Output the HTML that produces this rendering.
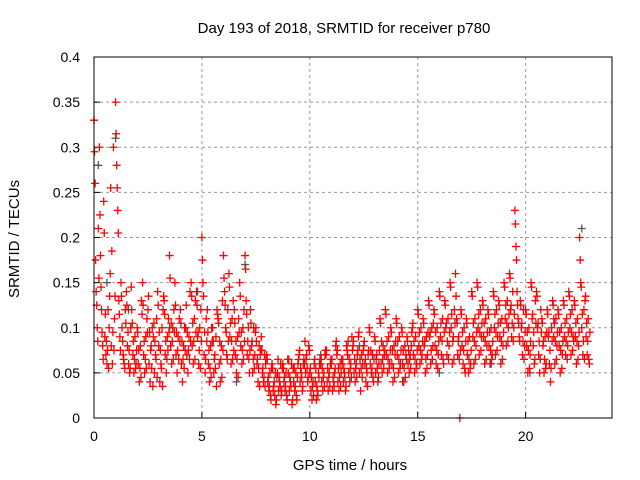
<!DOCTYPE html>
<html><head><meta charset="utf-8"><style>
body{margin:0;background:#fff}
svg{display:block;font-family:"Liberation Sans",sans-serif}
</style></head><body>
<svg id="chart" width="640" height="480" xmlns="http://www.w3.org/2000/svg">
<text x="344" y="33" font-size="15" text-anchor="middle">Day 193 of 2018, SRMTID for receiver p780</text>
<text x="350" y="470" font-size="15" text-anchor="middle">GPS time / hours</text>
<text transform="translate(19,239) rotate(-90)" font-size="15" text-anchor="middle">SRMTID / TECUs</text>
<g id="grid"></g><g id="ticks"></g><g id="gray"></g><g id="red"></g>
<rect x="94" y="57" width="518" height="361" fill="none" stroke="#000" stroke-width="1"/>
</svg>
<script>
const xTicks=[0,5,10,15,20];
const yTicks=[0,0.05,0.1,0.15,0.2,0.25,0.3,0.35,0.4];
const yTickLabels=["0","0.05","0.1","0.15","0.2","0.25","0.3","0.35","0.4"];
const groupHours=[0,0.25,0.5,0.75,1,1.25,1.5,1.75,2,2.25,2.5,2.75,3,3.25,3.5,3.75,4,4.25,4.5,4.75,5,5.25,5.5,5.75,6,6.25,6.5,6.75,7,7.25,7.5,7.75,8,8.25,8.5,8.75,9,9.25,9.5,9.75,10,10.25,10.5,10.75,11,11.25,11.5,11.75,12,12.25,12.5,12.75,13,13.25,13.5,13.75,14,14.25,14.5,14.75,15,15.25,15.5,15.75,16,16.25,16.5,16.75,17,17.25,17.5,17.75,18,18.25,18.5,18.75,19,19.25,19.5,19.75,20,20.25,20.5,20.75,21,21.25,21.5,21.75,22,22.25,22.5,22.75];
const redValues=[
[.33,.26,.14,.10,.21],[.30,.18,.12,.08,.24],[.09,.07,.06,.12,.10],[.16,.08,.06,.30,.11],[.35,.28,.23,.13,.09],[.15,.10,.07,.06,.12],[.14,.08,.06,.05,.10],[.12,.07,.05,.09,.06],
[.10,.06,.04,.08,.13],[.15,.07,.05,.09,.11],[.12,.06,.04,.08,.10],[.09,.05,.07,.11,.14],[.08,.04,.06,.10,.12],[.13,.07,.05,.09,.11],[.18,.08,.06,.10,.12],[.15,.07,.05,.09,.11],
[.12,.06,.04,.08,.10],[.10,.07,.05,.09,.14],[.15,.08,.06,.11,.13],[.14,.09,.06,.10,.12],[.20,.15,.07,.05,.11],[.12,.06,.04,.08,.10],[.10,.05,.07,.09,.12],[.11,.06,.04,.08,.13],
[.18,.14,.10,.07,.12],[.16,.09,.06,.11,.13],[.12,.07,.05,.09,.11],[.15,.08,.06,.10,.12],[.18,.13,.07,.10,.05],[.12,.08,.05,.10,.07],[.10,.06,.04,.08,.07],[.09,.05,.04,.07,.06],
[.07,.04,.03,.05,.02],[.06,.03,.04,.05,.02],[.05,.03,.04,.06,.03],[.06,.04,.03,.05,.02],[.05,.03,.04,.06,.02],[.04,.03,.05,.02,.06],[.07,.04,.05,.03,.06],[.06,.05,.07,.04,.08],
[.05,.03,.02,.04,.06],[.04,.02,.03,.05,.06],[.06,.04,.03,.05,.07],[.07,.04,.03,.05,.06],[.06,.03,.04,.05,.08],[.07,.04,.03,.06,.05],[.06,.04,.05,.03,.08],[.07,.05,.04,.06,.09],
[.08,.05,.04,.06,.07],[.09,.05,.03,.07,.06],[.08,.06,.04,.05,.07],[.10,.06,.05,.07,.04],[.09,.05,.07,.04,.06],[.11,.06,.05,.08,.07],[.12,.07,.05,.09,.06],[.10,.06,.04,.08,.07],
[.11,.07,.05,.09,.06],[.10,.06,.04,.08,.07],[.09,.06,.05,.07,.08],[.10,.07,.05,.09,.06],[.12,.08,.06,.10,.07],[.11,.08,.05,.09,.07],[.13,.09,.06,.10,.08],[.12,.08,.06,.10,.07],
[.14,.09,.07,.11,.06],[.13,.10,.07,.11,.08],[.15,.10,.06,.09,.12],[.16,.11,.07,.09,.00],[.12,.08,.06,.10,.05],[.11,.07,.05,.09,.06],[.14,.09,.06,.11,.08],[.15,.10,.07,.12,.09],
[.13,.09,.06,.11,.08],[.12,.08,.06,.10,.07],[.14,.10,.07,.12,.09],[.13,.09,.06,.11,.08],[.15,.11,.08,.13,.10],[.16,.12,.09,.14,.10],[.23,.19,.14,.11,.09],[.13,.10,.07,.12,.08],
[.12,.08,.05,.10,.07],[.15,.11,.08,.06,.13],[.14,.10,.07,.05,.12],[.11,.08,.05,.09,.06],[.12,.09,.06,.04,.10],[.13,.09,.06,.11,.08],[.12,.08,.05,.10,.07],[.13,.09,.07,.11,.08],
[.14,.10,.07,.12,.09],[.13,.09,.06,.11,.08],[.20,.15,.10,.07,.12],[.13,.09,.07,.11,.06]];
const redValues2=[
[.295,.175,.125,.085,.155],[.225,.145,.095,.065,.205],[.115,.085,.075,.055,.135],[.255,.185,.095,.075,.135],[.315,.255,.205,.115,.075],[.135,.085,.065,.055,.105],[.125,.095,.075,.055,.145],[.105,.085,.065,.055,.075],
[.095,.075,.055,.045,.115],[.125,.085,.065,.055,.095],[.135,.095,.075,.055,.035],[.105,.085,.065,.045,.125],[.095,.075,.055,.035,.135],[.115,.085,.065,.075,.095],[.155,.105,.085,.065,.095],[.125,.095,.075,.065,.085],
[.105,.085,.065,.055,.075],[.125,.095,.075,.065,.085],[.135,.105,.085,.065,.095],[.125,.095,.075,.055,.085],[.175,.135,.095,.065,.085],[.095,.075,.055,.045,.085],[.085,.065,.055,.035,.115],[.105,.085,.065,.045,.075],
[.155,.125,.095,.065,.085],[.145,.105,.085,.065,.075],[.105,.085,.065,.045,.095],[.135,.095,.075,.065,.085],[.165,.115,.085,.065,.075],[.105,.085,.065,.055,.095],[.085,.065,.055,.035,.075],[.075,.055,.045,.035,.065],
[.065,.045,.035,.025,.055],[.055,.035,.025,.015,.045],[.065,.045,.035,.025,.055],[.055,.045,.035,.025,.065],[.065,.045,.035,.015,.055],[.055,.035,.025,.045,.065],[.075,.055,.045,.035,.065],[.085,.065,.055,.045,.075],
[.055,.045,.035,.025,.065],[.055,.035,.025,.045,.065],[.065,.055,.045,.035,.075],[.075,.055,.045,.035,.065],[.065,.045,.035,.055,.085],[.075,.055,.045,.035,.065],[.065,.055,.045,.035,.075],[.085,.065,.055,.045,.075],
[.085,.065,.055,.045,.075],[.095,.065,.055,.045,.075],[.085,.065,.055,.035,.075],[.095,.075,.055,.045,.065],[.085,.065,.055,.045,.075],[.105,.085,.065,.055,.075],[.115,.085,.065,.055,.075],[.095,.075,.055,.045,.085],
[.105,.085,.065,.055,.075],[.095,.075,.055,.045,.065],[.085,.075,.065,.055,.095],[.105,.085,.065,.055,.075],[.115,.095,.075,.065,.085],[.105,.085,.065,.055,.095],[.125,.095,.075,.065,.105],[.115,.095,.075,.055,.085],
[.135,.105,.085,.065,.095],[.125,.105,.085,.065,.095],[.145,.115,.085,.065,.105],[.135,.105,.085,.065,.075],[.115,.095,.075,.055,.085],[.105,.085,.065,.055,.075],[.135,.105,.085,.065,.095],[.145,.115,.095,.075,.105],
[.125,.105,.085,.065,.095],[.115,.095,.075,.065,.085],[.135,.115,.095,.075,.105],[.125,.105,.085,.065,.095],[.145,.125,.105,.085,.115],[.155,.125,.105,.085,.115],[.215,.175,.125,.105,.085],[.125,.105,.085,.065,.095],
[.115,.095,.075,.055,.085],[.145,.115,.095,.065,.105],[.135,.105,.085,.065,.095],[.105,.085,.065,.055,.095],[.115,.095,.075,.055,.085],[.125,.105,.085,.065,.095],[.115,.095,.075,.055,.085],[.125,.105,.085,.065,.095],
[.135,.115,.095,.075,.085],[.125,.105,.085,.065,.095],[.175,.145,.115,.085,.065],[.135,.105,.085,.065,.095]];
const grayHours=[0.2,0.6,1.0,1.6,3.5,4.8,6.6,7.0,10.5,12.3,14.3,16.0,18.4,20.2,21.3,22.6];
const grayValues=[0.28,0.15,0.31,0.12,0.10,0.14,0.04,0.17,0.07,0.08,0.04,0.05,0.06,0.05,0.11,0.21];
const NS="http://www.w3.org/2000/svg";
const X=h=>94+h*(518/24), Y=v=>418-v*(361/0.4);
function mk(tag,attrs,parent){const e=document.createElementNS(NS,tag);for(const k in attrs)e.setAttribute(k,attrs[k]);document.getElementById(parent).appendChild(e);return e;}
xTicks.forEach(t=>{
  if(t>0){const g=mk('line',{x1:X(t),x2:X(t),y1:57,y2:418,stroke:'#999','stroke-dasharray':'3,3'},'grid');
  
  }
  const l=mk('text',{x:X(t),y:441,'font-size':14,'text-anchor':'middle'},'ticks');l.textContent=t;
  
  
  mk('line',{x1:X(t),x2:X(t),y1:418,y2:412,stroke:'#000'},'ticks');
});
yTicks.forEach((t,i)=>{
  if(t>0&&t<0.4){const g=mk('line',{x1:94,x2:612,y1:Y(t),y2:Y(t),stroke:'#999','stroke-dasharray':'3,3'},'grid');
  
  }
  const l=mk('text',{x:80,y:Y(t)+5,'font-size':14,'text-anchor':'end'},'ticks');l.textContent=yTickLabels[i];
  
  
  mk('line',{x1:94,x2:100,y1:Y(t),y2:Y(t),stroke:'#000'},'ticks');
});
function plus(h,v,col,parent,name){const x=X(h),y=Y(v);
  const p=mk('path',{d:`M${x-4} ${y}H${x+4}M${x} ${y-4}V${y+4}`,stroke:col,'stroke-width':1.3,fill:'none'},parent);
  
  }
grayHours.forEach((h,i)=>plus(h,grayValues[i],'#555','gray','gray-point'));
groupHours.forEach((h,i)=>redValues[i].forEach((v,k)=>plus(h+k*0.05,v,'#f00','red','red-point')));
groupHours.forEach((h,i)=>redValues2[i].forEach((v,k)=>plus(h+0.025+k*0.05,v,'#f00','red','red-point')));
</script>
</body></html>
